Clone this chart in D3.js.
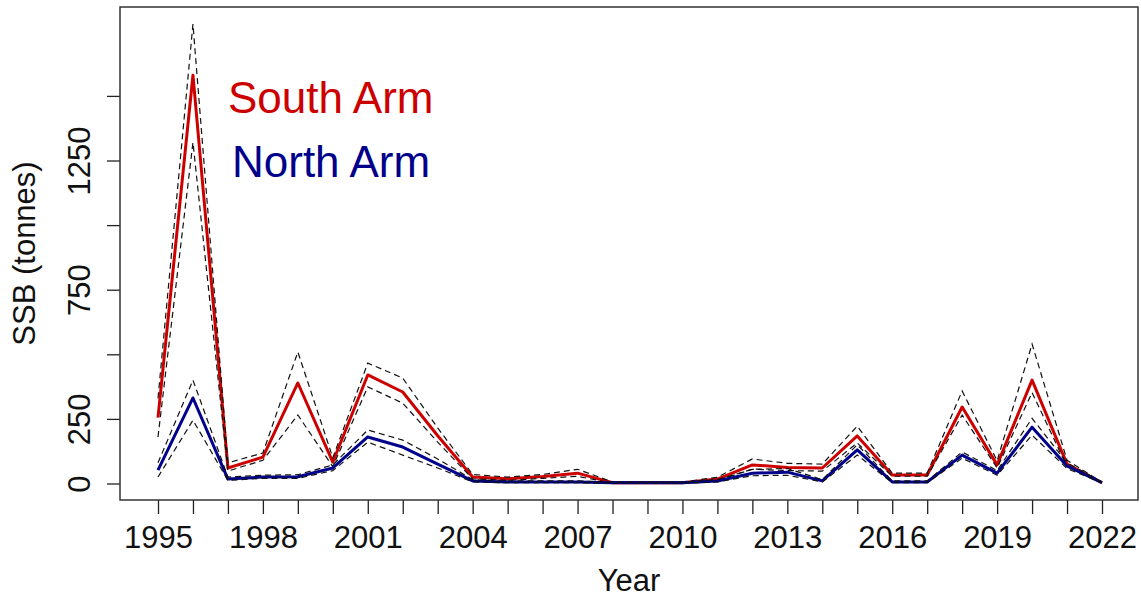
<!DOCTYPE html>
<html>
<head>
<meta charset="utf-8">
<script src="https://cdn.jsdelivr.net/npm/d3@7"></script>
<style>
  body { margin: 0; background: #fff; }
  svg text { font-family: "Liberation Sans", Arial, sans-serif; fill: #111; }
</style>
</head>
<body>
<svg id="chart" width="1141" height="600"></svg>
<script>
// SSB estimates (tonnes) with dashed interval bounds
var years = d3.range(1995, 2023);
var southSSB = [255, 1580, 60, 102, 389, 83, 420, 354, 185, 25, 18, 27, 40, 3, 3, 3, 17, 72, 62, 60, 184, 33, 33, 296, 72, 400, 75, 3];
var southLo  = [180, 1320, 48, 90, 265, 65, 374, 311, 160, 18, 12, 20, 28, 1, 1, 1, 12, 55, 50, 48, 157, 28, 28, 265, 60, 352, 65, 2];
var southHi  = [330, 1778, 80, 118, 509, 100, 466, 408, 215, 35, 25, 35, 55, 6, 6, 6, 24, 95, 78, 75, 222, 40, 40, 358, 88, 540, 90, 5];
var northSSB = [52, 331, 17, 25, 26, 60, 180, 141, 75, 10, 6, 6, 6, 3, 3, 3, 10, 40, 44, 10, 130, 6, 6, 110, 40, 218, 68, 3];
var northLo  = [25, 245, 12, 20, 20, 50, 160, 110, 60, 6, 3, 3, 3, 1, 1, 1, 6, 30, 32, 6, 110, 3, 3, 98, 32, 187, 58, 2];
var northHi  = [80, 400, 25, 32, 34, 72, 207, 168, 95, 15, 10, 10, 10, 5, 5, 5, 15, 55, 58, 15, 150, 10, 10, 122, 50, 252, 80, 5];

var yTicks = [0, 250, 500, 750, 1000, 1250, 1500];
var yLabelled = [0, 250, 750, 1250];
var xLabelled = d3.range(1995, 2023, 3);

var svg = d3.select("#chart");
var box = { left: 120, right: 1138, top: 7, bottom: 500 };

var x = d3.scaleLinear().domain([1995, 2022]).range([158, 1102]);
var y = d3.scaleLinear().domain([0, 1500]).range([483.5, 95.9]);

var fs = 31;

// axes
var xAxis = d3.axisBottom(x).tickValues(years).tickSize(14).tickSizeOuter(0)
  .tickFormat(function(d) { return xLabelled.indexOf(d) >= 0 ? d : ""; });
var gx = svg.append("g").attr("transform", "translate(0," + box.bottom + ")").call(xAxis);
gx.select(".domain").remove();
gx.selectAll(".tick line").attr("stroke", "#222").attr("stroke-width", 1.3);
gx.selectAll(".tick text").attr("font-size", fs).attr("dy", null).attr("y", 48).attr("fill", "#111");

var yAxis = d3.axisLeft(y).tickValues(yTicks).tickSize(13).tickSizeOuter(0)
  .tickFormat(function(d) { return yLabelled.indexOf(d) >= 0 ? d : ""; });
var gy = svg.append("g").attr("transform", "translate(" + box.left + ",0)").call(yAxis);
gy.select(".domain").remove();
gy.selectAll(".tick line").attr("stroke", "#222").attr("stroke-width", 1.3);
gy.selectAll(".tick text").attr("font-size", fs).attr("dy", null).attr("x", null)
  .attr("text-anchor", "middle")
  .attr("transform", "translate(-30,0) rotate(-90)");

// plot box
svg.append("rect")
  .attr("x", box.left).attr("y", box.top)
  .attr("width", box.right - box.left).attr("height", box.bottom - box.top)
  .attr("fill", "none").attr("stroke", "#333").attr("stroke-width", 1.5);

// axis titles
svg.append("text").attr("x", (box.left + box.right) / 2).attr("y", 591)
  .attr("text-anchor", "middle").attr("font-size", fs).text("Year");
svg.append("text").attr("transform", "translate(35," + ((box.top + box.bottom) / 2) + ") rotate(-90)")
  .attr("text-anchor", "middle").attr("font-size", fs).text("SSB (tonnes)");

function lineOf(vals) {
  return d3.line().x(function(d, i) { return x(years[i]); }).y(function(d) { return y(d); })(vals);
}

function drawSeries(mid, lo, hi, colour) {
  svg.append("path").attr("d", lineOf(mid)).attr("fill", "none")
    .attr("stroke", colour).attr("stroke-width", 3).attr("stroke-linejoin", "round");
  [lo, hi].forEach(function(b) {
    svg.append("path").attr("d", lineOf(b)).attr("fill", "none")
      .attr("stroke", "#111").attr("stroke-width", 1.2).attr("stroke-dasharray", "6,4");
  });
}

drawSeries(southSSB, southLo, southHi, "#CD0000");
drawSeries(northSSB, northLo, northHi, "#00008B");

// legend text
svg.append("text").attr("x", 228).attr("y", 113).attr("font-size", 44)
  .style("fill", "#CD0000").text("South Arm");
svg.append("text").attr("x", 232).attr("y", 177).attr("font-size", 44)
  .style("fill", "#00008B").text("North Arm");
</script>
</body>
</html>
